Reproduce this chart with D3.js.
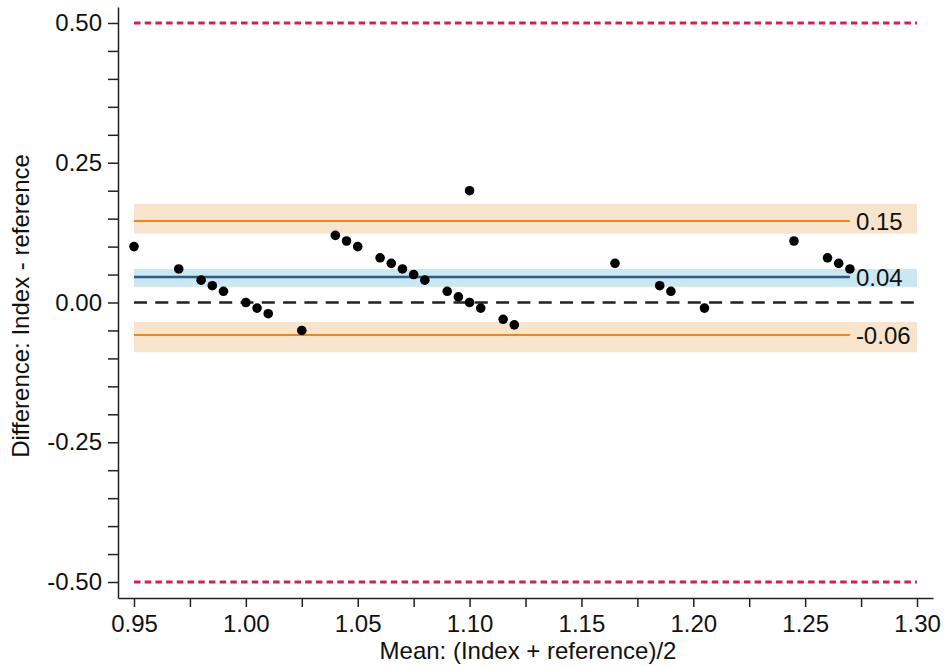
<!DOCTYPE html>
<html>
<head>
<meta charset="utf-8">
<script src="https://cdn.jsdelivr.net/npm/d3@7"></script>
<style>
  body { margin: 0; background: #fff; }
  svg { display: block; font-family: 'Liberation Sans', Arial, sans-serif; }
</style>
</head>
<body>
<svg id="chart" width="944" height="666"></svg>
<script>
// means (x) and differences (y)
const meanX = [0.95, 0.97, 0.98, 0.985, 0.99, 1.00, 1.005, 1.01, 1.025,
  1.04, 1.045, 1.05, 1.06, 1.065, 1.07, 1.075, 1.08, 1.09, 1.095, 1.10, 1.10,
  1.105, 1.115, 1.12, 1.165, 1.185, 1.19, 1.205, 1.245, 1.26, 1.265, 1.27];
const diffY = [0.10, 0.06, 0.04, 0.03, 0.02, 0.00, -0.01, -0.02, -0.05,
  0.12, 0.11, 0.10, 0.08, 0.07, 0.06, 0.05, 0.04, 0.02, 0.01, 0.00, 0.20,
  -0.01, -0.03, -0.04, 0.07, 0.03, 0.02, -0.01, 0.11, 0.08, 0.07, 0.06];

// limits of agreement and bias, with their confidence bands
const limitNames = ['upper', 'bias', 'lower'];
const limitValues = [0.146, 0.0457, -0.058];
const limitLabels = ['0.15', '0.04', '-0.06'];
const bandLow = [0.123, 0.028, -0.089];
const bandHigh = [0.1765, 0.060, -0.035];

const toleranceLimits = [0.50, -0.50];

const xTicks = [0.95, 1.00, 1.05, 1.10, 1.15, 1.20, 1.25, 1.30];
const xMinorTicks = [0.975, 1.025, 1.075, 1.125, 1.175, 1.225, 1.275];
const yTicks = [-0.50, -0.25, 0.00, 0.25, 0.50];
const yMinorTicks = [-0.45, -0.40, -0.35, -0.30, -0.20, -0.15, -0.10, -0.05,
  0.05, 0.10, 0.15, 0.20, 0.30, 0.35, 0.40, 0.45];

const svg = d3.select('#chart');

const pad = 16 / 2237;
const x = d3.scaleLinear().domain([0.95 - pad, 1.30 + pad]).range([118, 933]);
const y = d3.scaleLinear().domain([-0.5286, 0.5286]).range([598, 7]);

const xStart = x(0.95);
const xEnd = x(1.30);
const xLast = x(d3.max(meanX));

const fontSize = 24;
const bandColor = ['#f8e4cc', '#cbe7f2', '#f8e4cc'];
const lineColor = ['#e8891c', '#2b5c85', '#e8891c'];
const fmt = (d) => d.toFixed(2);

// bands
svg.append('g').selectAll('rect')
  .data(limitNames)
  .enter()
  .append('rect')
  .attr('x', xStart)
  .attr('width', xEnd - xStart)
  .attr('y', (d, i) => y(bandHigh[i]))
  .attr('height', (d, i) => y(bandLow[i]) - y(bandHigh[i]))
  .style('fill', (d, i) => bandColor[i]);

// tolerance limits
svg.append('g').selectAll('line')
  .data(toleranceLimits)
  .enter()
  .append('line')
  .attr('x1', xStart)
  .attr('x2', xEnd)
  .attr('y1', (d) => y(d))
  .attr('y2', (d) => y(d))
  .style('stroke', '#d81e50')
  .style('stroke-width', 3)
  .style('stroke-dasharray', '6.5,4.2');

// zero line
svg.append('line')
  .attr('x1', xStart)
  .attr('x2', xEnd)
  .attr('y1', y(0))
  .attr('y2', y(0))
  .style('stroke', '#222')
  .style('stroke-width', 2.5)
  .style('stroke-dasharray', '13,8.3');

// limit lines
svg.append('g').selectAll('line')
  .data(limitValues)
  .enter()
  .append('line')
  .attr('x1', xStart)
  .attr('x2', xLast)
  .attr('y1', (d) => y(d))
  .attr('y2', (d) => y(d))
  .style('stroke', (d, i) => lineColor[i])
  .style('stroke-width', (d, i) => i === 1 ? 2.5 : 2);

svg.append('g').selectAll('text')
  .data(limitValues)
  .enter()
  .append('text')
  .attr('x', xLast + 6)
  .attr('y', (d) => y(d))
  .attr('dy', '0.36em')
  .style('font-size', fontSize + 'px')
  .style('fill', '#111')
  .text((d, i) => limitLabels[i]);

// points
svg.append('g').selectAll('circle')
  .data(meanX)
  .enter()
  .append('circle')
  .attr('cx', (d) => x(d))
  .attr('cy', (d, i) => y(diffY[i]))
  .attr('r', 4.8)
  .style('fill', '#000');

// axes
svg.append('g')
  .attr('transform', 'translate(118,0)')
  .call(d3.axisLeft(y).tickValues(yTicks).tickFormat(fmt)
    .tickSize(10).tickSizeOuter(0).tickPadding(6));
svg.append('g')
  .attr('transform', 'translate(118,0)')
  .call(d3.axisLeft(y).tickValues(yMinorTicks).tickFormat('')
    .tickSize(10).tickSizeOuter(0))
  .select('.domain').remove();

svg.append('g')
  .attr('transform', 'translate(0,598)')
  .call(d3.axisBottom(x).tickValues(xTicks).tickFormat(fmt)
    .tickSize(9).tickSizeOuter(0).tickPadding(8));
svg.append('g')
  .attr('transform', 'translate(0,598)')
  .call(d3.axisBottom(x).tickValues(xMinorTicks).tickFormat('')
    .tickSize(9).tickSizeOuter(0))
  .select('.domain').remove();

svg.selectAll('.tick line, .domain')
  .style('stroke', '#222')
  .style('stroke-width', 1.5);
svg.selectAll('.tick text')
  .style('font-size', fontSize + 'px')
  .style('font-family', "'Liberation Sans', Arial, sans-serif")
  .style('fill', '#111');

svg.append('text')
  .attr('x', 528)
  .attr('y', 659)
  .attr('text-anchor', 'middle')
  .style('font-size', fontSize + 'px')
  .style('fill', '#111')
  .text('Mean: (Index + reference)/2');

svg.append('text')
  .attr('transform', 'translate(29,306) rotate(-90)')
  .attr('text-anchor', 'middle')
  .style('font-size', fontSize + 'px')
  .style('fill', '#111')
  .text('Difference: Index - reference');
</script>
</body>
</html>
